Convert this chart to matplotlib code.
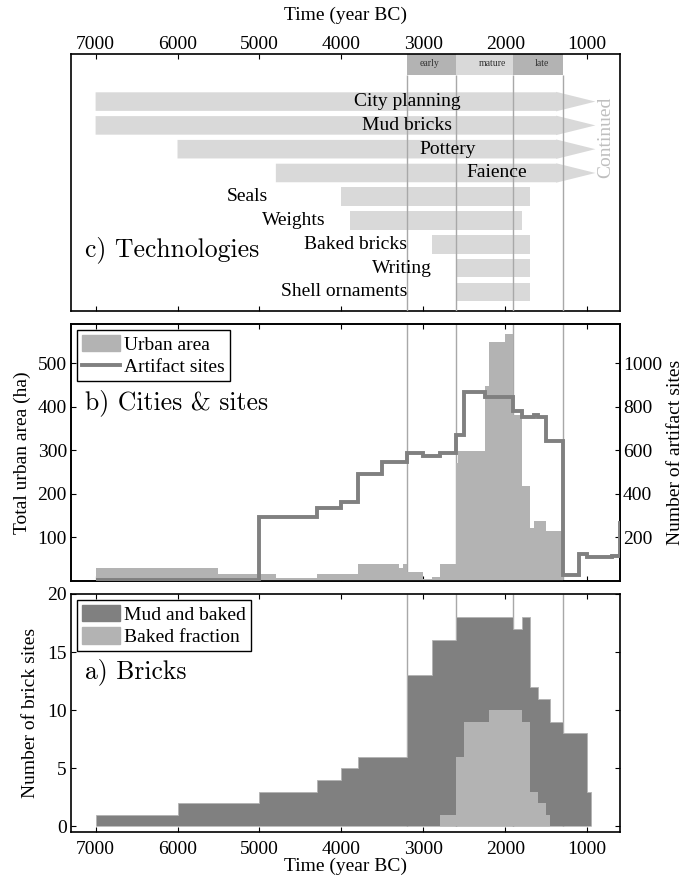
import numpy as np
import matplotlib
matplotlib.use("Agg")
import matplotlib.pyplot as plt
from matplotlib.patches import Patch
from matplotlib.lines import Line2D

plt.rcParams['font.family'] = ['Liberation Serif', 'DejaVu Serif']
plt.rcParams['font.size'] = 14

# ---- data (years BC) ----
phase_names = ['early', 'mature', 'late']
phase_edges = [3200, 2600, 1900, 1300]
phase_label_x = [2930, 2160, 1550]

tech_names = ['City planning', 'Mud bricks', 'Pottery', 'Faience', 'Seals',
              'Weights', 'Baked bricks', 'Writing', 'Shell ornaments']
tech_start = [7000, 7000, 6000, 4800, 4000, 3900, 2900, 2600, 2600]
tech_end = [1380, 1380, 1380, 1380, 1700, 1800, 1700, 1700, 1700]
tech_continued = [True, True, True, True, False, False, False, False, False]
tech_label_x = [3200, 3200, 2700, 2100, 4900, 4190, 3200, 2900, 3200]
arrow_tip = 900

urban_edges = [7000, 5500, 4800, 4300, 3800, 3300, 3250, 3200, 3000, 2900, 2800,
               2600, 2575, 2250, 2200, 2000, 1900, 1800, 1700, 1650, 1500, 1300]
urban_area = [30, 15, 8, 17, 38, 30, 38, 21, 5, 9, 38,
              270, 298, 447, 548, 567, 380, 217, 121, 138, 115]

artifact_edges = [7000, 5000, 4300, 4000, 3800, 3500, 3200, 3000, 2800, 2600, 2500,
                  2250, 1900, 1800, 1650, 1600, 1500, 1300, 1100, 1000, 700, 600, 500]
artifact_sites = [3, 295, 334, 363, 492, 546, 588, 572, 588, 672, 867,
                  844, 780, 754, 762, 754, 641, 29, 126, 108, 114, 265]

brick_edges = [7000, 6000, 5000, 4300, 4000, 3800, 3200, 2900, 2600, 1900,
               1800, 1700, 1600, 1450, 1300, 1000, 950]
brick_total = [1, 2, 3, 4, 5, 6, 13, 16, 18, 17, 18, 12, 11, 9, 8, 3]
baked_edges = [2800, 2600, 2500, 2200, 1800, 1700, 1600, 1500, 1450]
baked_sites = [1, 6, 9, 10, 9, 3, 2, 1]

year_ticks = [7000, 6000, 5000, 4000, 3000, 2000, 1000]
XLIM = (7300, 600)

DARK = '#808080'
MID = '#b3b3b3'
LIGHT = '#d9d9d9'
VLINE = '#a8a8a8'
CM = ['cmr10', 'DejaVu Serif']
FS = 14


def steps(ax, vals, edges, **kw):
    # stairs wants increasing edges
    return ax.stairs(np.array(vals)[::-1], np.array(edges)[::-1], **kw)


def style_x(ax, top_labels=False, bottom_labels=False):
    ax.set_xlim(*XLIM)
    ax.set_xticks(year_ticks)
    ax.tick_params(axis='x', direction='in', top=True, bottom=True, length=3.6,
                   width=0.8, labeltop=top_labels, labelbottom=bottom_labels)
    ax.tick_params(axis='x', which='major', pad=6 if bottom_labels else 1.0)
    for s in ax.spines.values():
        s.set_linewidth(1.2)


def box_legend(ax, handles):
    leg = ax.legend(handles=handles, loc='upper left', fontsize=FS, fancybox=False,
                    framealpha=1, edgecolor='black', borderaxespad=0.3,
                    borderpad=0.25, handlelength=1.95, handleheight=0.92,
                    labelspacing=0.2, handletextpad=0.25)
    leg.get_frame().set_linewidth(1.0)
    return leg


fig = plt.figure(figsize=(6.94, 8.75), dpi=100)
L, W = 71 / 694, 549 / 694
axc = fig.add_axes([L, 1 - 311 / 875, W, 257 / 875])
axb = fig.add_axes([L, 1 - 581 / 875, W, 257 / 875])
axa = fig.add_axes([L, 1 - 832.3 / 875, W, 238.3 / 875])

# ---- c) Technologies ----
n = len(tech_names)
ys = np.arange(n, 0, -1)
h = 0.78
for y, s, e, cont in zip(ys, tech_start, tech_end, tech_continued):
    if cont:
        px = [s, e, e, arrow_tip, e, e, s]
        py = [y - h / 2, y - h / 2, y - h / 2 - 0.02, y, y + h / 2 + 0.02, y + h / 2, y + h / 2]
        axc.fill(px, py, color=LIGHT, lw=0, zorder=2)
    else:
        axc.barh(y, e - s, left=s, height=h, color=LIGHT, lw=0, zorder=2)

for y, name, lx, cont in zip(ys, tech_names, tech_label_x, tech_continued):
    axc.text(lx, y, name, ha='center' if cont else 'right', va='center',
             fontsize=FS, zorder=5)

box_lo, box_hi = 10.12, 11.0
phase_cols = [MID, LIGHT, MID]
for i, name in enumerate(phase_names):
    axc.fill_between([phase_edges[i], phase_edges[i + 1]], box_lo, box_hi,
                     color=phase_cols[i], lw=0, zorder=2)
    axc.text(phase_label_x[i], (box_lo + box_hi) / 2 + 0.05, name, fontsize=7,
             ha='center', va='center', color='#333333', zorder=5)
axc.vlines(phase_edges, 0.2, box_lo, color=VLINE, lw=1, zorder=3)

axc.text(775, 7.5, 'Continued', rotation=90, ha='center', va='center',
         color='#bfbfbf', fontsize=FS)
axc.text(0.0255, 0.237, 'c) Technologies', transform=axc.transAxes,
         fontsize=18.5, va='center', ha='left', family=CM)
axc.set_ylim(0.2, 11.0)
axc.set_yticks([])
style_x(axc, top_labels=True)
fig.text((71 + 620) / 2 / 694, 1 - 15 / 875, 'Time (year BC)', ha='center',
         va='center', fontsize=FS)

# ---- b) Cities & sites ----
axb.vlines(phase_edges, 0, 590, color=VLINE, lw=1, zorder=1)
steps(axb, urban_area, urban_edges, baseline=0, fill=True, color=MID, lw=0, zorder=3)
axb.set_ylim(0, 590)
axb.set_yticks([100, 200, 300, 400, 500])
axb.tick_params(axis='y', direction='in', length=3.6, width=0.8, pad=3, right=False)
axb.set_ylabel('Total urban area (ha)', fontsize=FS)
axb.yaxis.set_label_coords(-0.0735, 0.5)
style_x(axb)

axb2 = axb.twinx()
steps(axb2, artifact_sites, artifact_edges, baseline=None, color=DARK, lw=2.8, zorder=4)
axb2.set_ylim(0, 1180)
axb2.set_xlim(*XLIM)
axb2.set_yticks([200, 400, 600, 800, 1000])
axb2.tick_params(axis='y', direction='in', length=3.6, width=0.8, pad=2)
axb2.set_ylabel('Number of artifact sites', fontsize=FS, rotation=90)
axb2.yaxis.set_label_coords(1.086, 0.5)
for s in axb2.spines.values():
    s.set_linewidth(1.2)
axb2.text(0.0255, 0.693, 'b) Cities & sites', transform=axb2.transAxes,
          fontsize=18.5, va='center', ha='left', family=CM)
box_legend(axb2, [Patch(color=MID, label='Urban area'),
                  Line2D([], [], color=DARK, lw=2.8, label='Artifact sites')])

# ---- a) Bricks ----
axa.vlines(phase_edges, 0, 20, color=VLINE, lw=1, zorder=1)
steps(axa, brick_total, brick_edges, baseline=0, fill=True, facecolor=DARK,
      edgecolor=MID, lw=0.6, zorder=2)
steps(axa, baked_sites, baked_edges, baseline=0, fill=True, color=MID, lw=0, zorder=3)
axa.set_ylim(-0.5, 20)
axa.set_yticks([0, 5, 10, 15, 20])
axa.tick_params(axis='y', direction='in', left=True, right=True, length=3.6,
                width=0.8, pad=3)
axa.set_ylabel('Number of brick sites', fontsize=FS)
axa.yaxis.set_label_coords(-0.058, 0.5)
style_x(axa, bottom_labels=True)
fig.text((71 + 620) / 2 / 694, 1 - 866 / 875, 'Time (year BC)', ha='center',
         va='center', fontsize=FS)
axa.text(0.0255, 0.674, 'a) Bricks', transform=axa.transAxes,
         fontsize=18.5, va='center', ha='left', family=CM)
box_legend(axa, [Patch(color=DARK, label='Mud and baked'),
                 Patch(color=MID, label='Baked fraction')])

fig.savefig('out.png', dpi=100)
